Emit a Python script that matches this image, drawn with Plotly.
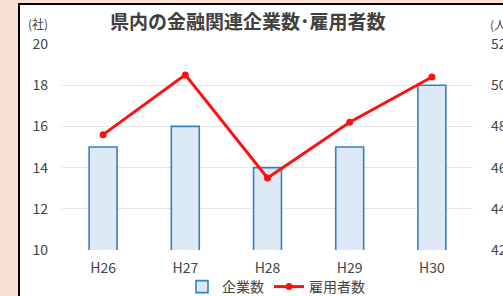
import plotly.graph_objects as go

categories = ["H26", "H27", "H28", "H29", "H30"]
companies = [15, 16, 14, 15, 18]
employees = [47.6, 50.5, 45.5, 48.2, 50.4]
left_ticks = [10, 12, 14, 16, 18, 20]
right_ticks = [42, 44, 46, 48, 50, 52]

W, H = 503, 296
ML, MR, MT, MB = 62, 30, 44, 46
PW, PH = W - ML - MR, H - MT - MB

def px_x(x):
    return (x - ML) / PW

def px_y(y):
    return (H - MB - y) / PH

font_fam = "Noto Sans CJK JP"
tick_col = "#444444"
bg = "#fae1d4"

fig = go.Figure()
fig.add_trace(go.Bar(
    x=categories, y=companies, name="企業数", width=0.34,
    marker=dict(color="#dde9f6", line=dict(color="#3580c2", width=1.6)),
    yaxis="y",
))
fig.add_trace(go.Scatter(
    x=categories, y=employees, name="雇用者数", mode="lines+markers",
    line=dict(color="#ff1010", width=3),
    marker=dict(color="#ff1010", size=7, symbol="circle"),
    yaxis="y2",
))

fig.update_layout(
    width=W, height=H,
    margin=dict(l=ML, r=MR, t=MT, b=MB, pad=0, autoexpand=False),
    paper_bgcolor=bg,
    plot_bgcolor="rgba(0,0,0,0)",
    font=dict(family=font_fam, size=14, color=tick_col),
    showlegend=True,
    legend=dict(orientation="h", x=px_x(276), y=px_y(287), xanchor="center", yanchor="middle",
                font=dict(size=14, color=tick_col), bgcolor="rgba(0,0,0,0)",
                itemwidth=30, tracegroupgap=0),
    xaxis=dict(type="category", range=[-0.5, 4.5], showgrid=False, zeroline=False,
               showline=False, ticks="", tickfont=dict(size=14, color=tick_col),
               ticklabelstandoff=8, automargin=False),
    yaxis=dict(range=[10, 20], tickvals=left_ticks, ticktext=[str(v) for v in left_ticks],
               showgrid=True, gridcolor="#e6e6e6", gridwidth=1, zeroline=False,
               showline=False, ticks="", tickfont=dict(size=14, color=tick_col),
               ticklabelstandoff=13, automargin=False),
    yaxis2=dict(range=[42, 52], tickvals=right_ticks, ticktext=[str(v) for v in right_ticks],
                overlaying="y", side="right", showgrid=False, zeroline=False,
                showline=False, ticks="", tickfont=dict(size=14, color=tick_col),
                ticklabelstandoff=17, automargin=False),
    shapes=[dict(type="rect", xref="paper", yref="paper", layer="below",
                 x0=px_x(19), x1=px_x(520), y0=px_y(320), y1=px_y(4),
                 fillcolor="white", line=dict(color="black", width=2))],
    annotations=[
        dict(text="<b>県内の金融関連企業数･雇用者数</b>", xref="paper", yref="paper",
             x=px_x(248), y=px_y(20), xanchor="center", yanchor="middle", showarrow=False,
             font=dict(size=19, color="#404040", family=font_fam)),
        dict(text="(社)", xref="paper", yref="paper", x=px_x(26), y=px_y(23),
             xanchor="left", yanchor="middle", showarrow=False,
             font=dict(size=12, color=tick_col)),
        dict(text="(人)", xref="paper", yref="paper", x=px_x(488), y=px_y(24),
             xanchor="left", yanchor="middle", showarrow=False,
             font=dict(size=12, color=tick_col)),
    ],
)

fig.write_html(
    "out.html",
    config={"displayModeBar": False},
    post_script="document.body.style.margin='0';document.body.style.background='%s';"
                "document.body.style.overflow='hidden';" % bg,
)
